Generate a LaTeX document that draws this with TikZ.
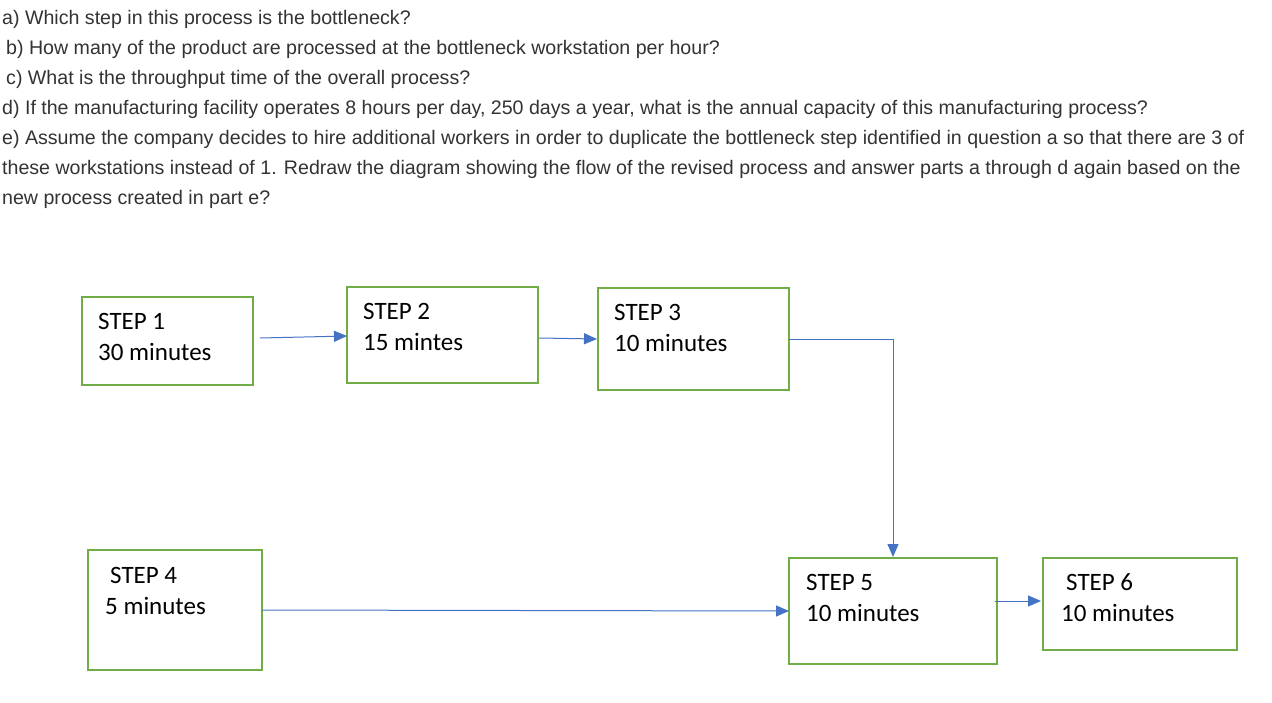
\documentclass[tikz,border=0pt]{standalone}
\usepackage{fontspec}
\setmainfont{Liberation Sans}
\newfontfamily\boxfont{Carlito}
\usetikzlibrary{arrows.meta}
\definecolor{boxgreen}{HTML}{70AD47}
\definecolor{arrowblue}{HTML}{4472C4}
\definecolor{qtext}{HTML}{333333}
\begin{document}
\begin{tikzpicture}[x=1pt,y=-1pt,
  qline/.style={anchor=base west,inner sep=0pt,text=qtext,font=\fontsize{19.6}{22}\selectfont},
  stepbox/.style={draw=boxgreen,line width=2pt},
  steptext/.style={anchor=base west,inner sep=0pt,text=black,font=\boxfont\fontsize{25}{30}\selectfont},
  flow/.style={draw=arrowblue,line width=1pt,-{Triangle[length=13pt,width=11pt]}}]
\useasboundingbox (0,0) rectangle (1272,702);
\fill[white] (0,0) rectangle (1272,702);
% questions
\node[qline] (qa) at (2,24) {a) Which step in this process is the bottleneck?};
\node[qline] (qb) at (6,54) {b) How many of the product are processed at the bottleneck workstation per hour?};
\node[qline] (qc) at (6,84) {c) What is the throughput time of the overall process?};
\node[qline] (qd) at (2,114) {d) If the manufacturing facility operates 8 hours per day, 250 days a year, what is the annual capacity of this manufacturing process?};
\node[qline] (qe) at (2,144) {e) Assume the company decides to hire additional workers in order to duplicate the bottleneck step identified in question a so that there are 3 of};
\node[qline] (qf) at (2,174) {these workstations instead of 1. Redraw the diagram showing the flow of the revised process and answer parts a through d again based on the};
\node[qline] (qg) at (2,204) {new process created in part e?};
% boxes
\draw[stepbox] (82,297) rectangle (253,385);
\coordinate (s1out) at (260,338);
\draw[stepbox] (347,287) rectangle (538,383);
\coordinate (s2in) at (347,336);
\coordinate (s2out) at (539,338);
\draw[stepbox] (598,288) rectangle (789,390);
\coordinate (s3in) at (597,339);
\coordinate (s3out) at (789,339);
\coordinate (bend) at (893,339);
\draw[stepbox] (88,550) rectangle (262,670);
\coordinate (s4out) at (262,610);
\draw[stepbox] (789,558) rectangle (997,664);
\coordinate (s5top) at (893,557);
\coordinate (s5in) at (789,611);
\coordinate (s5out) at (995,601);
\draw[stepbox] (1043,558) rectangle (1237,650);
\coordinate (s6in) at (1041,601);
% texts
\node[steptext] (t1a) at (98,329) {STEP 1};
\node[steptext] (t1b) at (98,360) {30 minutes};
\node[steptext] (t2a) at (363,319) {STEP 2};
\node[steptext] (t2b) at (363,350) {15 mintes};
\node[steptext] (t3a) at (614,320) {STEP 3};
\node[steptext] (t3b) at (614,351) {10 minutes};
\node[steptext] (t4a) at (110,583) {STEP 4};
\node[steptext] (t4b) at (105,614) {5 minutes};
\node[steptext] (t5a) at (806,590) {STEP 5};
\node[steptext] (t5b) at (806,621) {10 minutes};
\node[steptext] (t6a) at (1066,590) {STEP 6};
\node[steptext] (t6b) at (1061,621) {10 minutes};
% arrows
\draw[flow] (s1out) -- (s2in);
\draw[flow] (s2out) -- (s3in);
\draw[flow] (s3out) -- (bend) -- (s5top);
\draw[flow] (s4out) -- (s5in);
\draw[flow] (s5out) -- (s6in);
\end{tikzpicture}
\end{document}
